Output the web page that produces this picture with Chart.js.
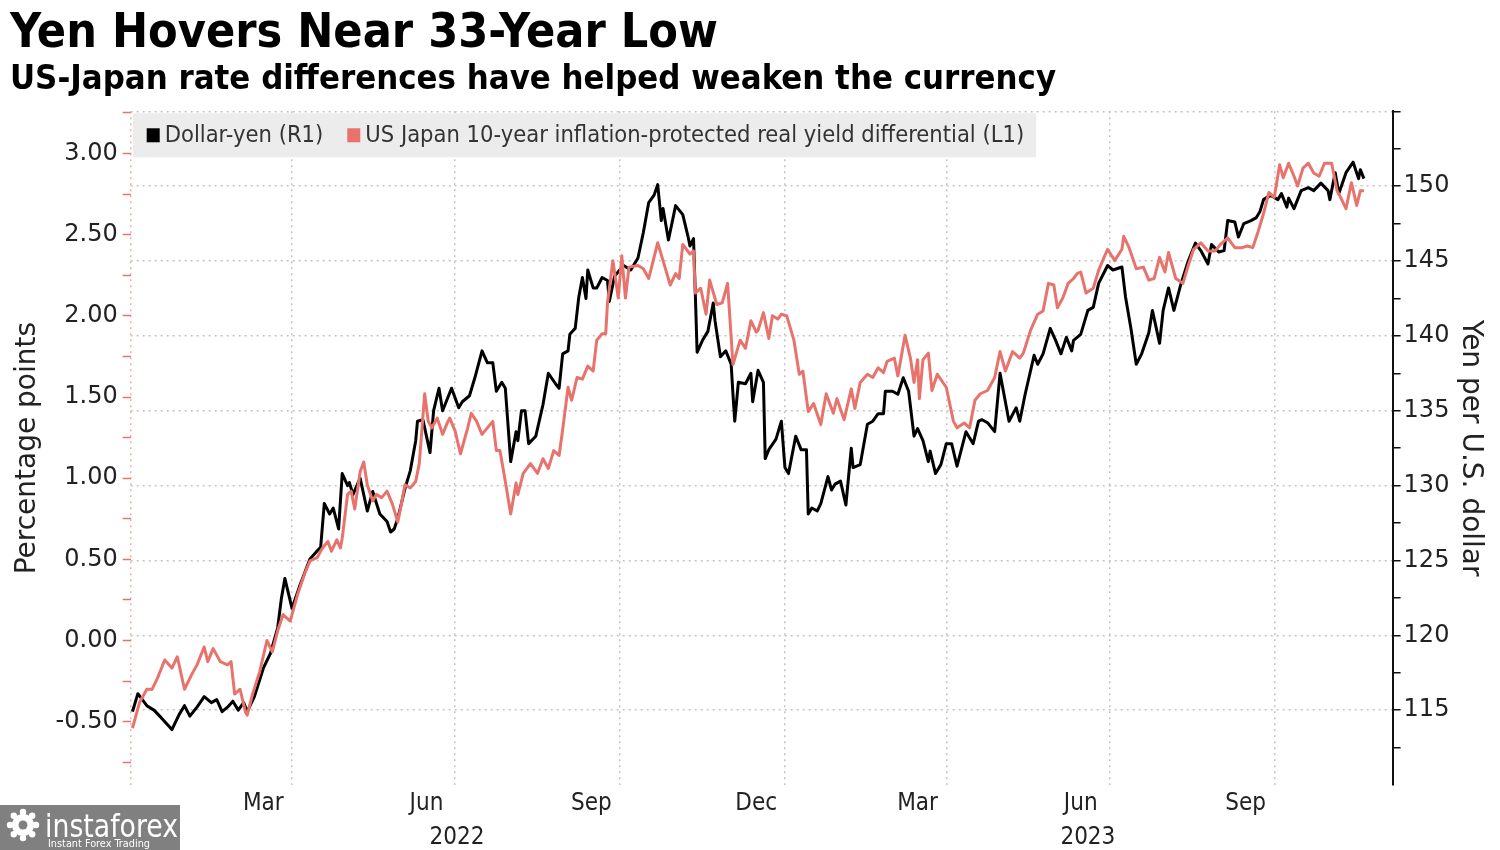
<!DOCTYPE html>
<html>
<head>
<meta charset="utf-8">
<title>Yen Hovers Near 33-Year Low</title>
<script src="https://cdn.jsdelivr.net/npm/chart.js@4.4.1/dist/chart.umd.min.js"></script>
<style>
  html, body { margin: 0; padding: 0; background: #fff; }
</style>
</head>
<body>
<canvas id="chart" width="1500" height="850"></canvas>
<script>
// all x values are days counted from 2022-01-01
var yenDays = [1,4,9,13,17,23,27,30,33,37, 41,45,48,51,54,57,60,63,65,69,
  74,78,82,84,86,90,94,100,106,108, 111,113,116,118,121,122,124,128,132,135,
  139,143,145,147,149,153,156,159,160,163, 167,169,172,174,179,183,185,189,192,196,
  199,202,204,207,209,212,215,216,218,220, 222,226,230,233,237,239,241,244,245,248,
  250,252,254,255,258,260,263,266,267,270, 275,279,283,286,289,292,294,296,297,300,
  304,308,311,312,314,315,316,319,322,325, 326,329,332,335,336,337,339,343,346,347,
  350,353,354,356,360,363,365,367,371,374, 377,378,380,383,385,389,391,393,396,399,
  402,403,407,411,414,417,420,421,425,428, 431,434,437,439,442,445,446,449,452,455,
  458,461,466,470,473,475,478,482,485,490, 494,496,499,504,506,509,513,516,519,522,
  525,526,530,534,537,540,545,548,553,555, 558,561,564,568,570,574,576,579,582,586,
  590,594,597,601,603,607,610,612,616,618, 621,625,628,630,632,636,640,642,645,646,
  649,653,657,660,664,668,669,672,674,678, 682,685,686,688]
var yenValues = [114.9,116.1,115.3,115.0,114.5,113.7,114.7,115.3,114.6,115.2,
  115.9,115.5,115.7,114.9,115.2,115.6,115.0,115.5,114.9,115.9,
  117.8,118.8,120.5,122.4,123.8,121.8,123.2,125.1,125.9,128.8,
  128.1,128.5,127.1,130.8,130.0,130.2,129.4,130.5,128.3,129.6,
  128.1,127.6,126.9,127.1,127.8,129.8,131.0,133.0,134.3,134.4,
  132.2,135.0,136.5,135.0,136.5,135.2,135.6,136.0,137.2,139.0,
  138.2,138.2,136.3,136.9,136.5,131.6,133.6,133.0,135.0,135.0,
  132.8,133.3,135.4,137.5,136.8,136.5,138.8,139.0,140.1,140.5,
  142.6,143.9,142.5,144.4,143.2,143.2,143.9,143.7,142.3,144.0,
  144.7,144.4,145.2,146.9,148.9,149.4,150.1,147.7,148.5,146.4,
  148.7,148.1,146.6,146.0,146.5,142.8,138.9,139.7,140.3,142.2,
  141.0,138.6,139.0,138.1,136.1,134.3,136.9,136.8,137.5,135.6,
  137.7,136.9,131.8,132.4,133.1,134.3,131.2,130.8,133.3,132.4,
  132.4,128.1,128.5,128.3,128.8,130.6,129.7,130.1,130.3,128.7,
  132.5,131.2,131.4,134.1,134.3,134.8,134.8,136.3,136.3,136.1,
  137.2,136.3,133.3,133.8,133.0,131.6,132.3,130.8,131.4,132.8,
  132.8,131.3,133.6,132.8,134.3,134.4,134.2,133.6,137.5,134.3,
  135.2,134.3,136.1,138.7,138.1,138.8,140.5,139.7,138.8,139.9,
  139.0,139.7,140.1,141.7,141.9,143.5,144.7,144.4,144.6,142.6,
  140.5,138.1,138.8,140.2,141.7,139.5,141.7,143.2,141.7,143.5,
  145.0,146.2,145.7,144.8,146.1,145.6,145.7,147.7,147.6,146.6,
  147.5,147.7,147.9,148.3,149.1,149.4,149.1,149.5,148.6,149.2,
  148.5,149.7,149.9,149.7,150.2,149.7,149.1,150.9,149.5,150.9,
  151.6,150.5,151.1,150.5]

var realDays = [1,5,9,12,15,19,23,26,30,34, 37,41,43,46,50,54,56,58,61,64,
  65,68,72,76,79,82,85,89,93,97, 100,104,107,110,112,115,117,118,121,123,
  125,128,130,132,135,137,140,143,146,149, 151,153,156,159,161,164,166,168,171,174,
  177,178,181,184,188,190,193,196,199,202, 204,206,209,212,215,216,219,223,227,230,
  233,236,239,241,244,246,249,252,255,258, 260,263,265,266,269,272,274,276,278,283,
  286,289,294,297,301,304,306,308,312,314, 315,318,321,323,327,330,333,336,340,343,
  346,349,350,353,356,358,361,363,366,370, 373,375,378,381,385,388,392,394,398,402,
  404,407,411,414,417,420,422,426,428,432, 435,437,439,440,442,445,447,450,455,459,
  461,465,468,471,474,478,482,485,488,492, 496,498,502,506,509,512,515,517,520,523,
  526,528,530,533,537,540,543,545,549,553, 554,557,561,565,568,571,574,577,579,583,
  587,590,593,597,601,605,608,612,616,620, 623,626,629,632,635,638,641,643,646,649,
  651,654,657,660,663,666,670,673,675,678, 681,684,686,688]
var realValues = [-0.54,-0.38,-0.30,-0.30,-0.23,-0.12,-0.17,-0.10,-0.30,-0.21,
  -0.15,-0.04,-0.13,-0.05,-0.13,-0.15,-0.13,-0.33,-0.30,-0.44,
  -0.46,-0.33,-0.19,0.00,-0.07,0.06,0.16,0.12,0.28,0.41,
  0.49,0.51,0.57,0.61,0.55,0.62,0.57,0.63,0.90,0.92,
  0.81,1.04,1.10,0.96,0.86,0.90,0.88,0.92,0.84,0.73,
  0.84,0.96,0.94,0.98,1.09,1.52,1.35,1.31,1.37,1.27,
  1.35,1.37,1.29,1.15,1.31,1.40,1.35,1.27,1.31,1.35,
  1.17,1.17,0.98,0.78,0.97,0.90,1.03,1.09,1.03,1.12,
  1.06,1.17,1.14,1.30,1.56,1.48,1.62,1.61,1.69,1.66,
  1.85,1.89,1.89,2.08,2.34,2.11,2.37,2.11,2.30,2.31,
  2.29,2.23,2.45,2.34,2.19,2.26,2.23,2.44,2.38,2.40,
  2.14,2.17,2.01,2.22,2.07,2.08,2.20,1.70,1.85,1.80,
  1.97,1.90,1.91,2.02,1.86,2.00,1.98,2.01,2.00,1.85,
  1.64,1.66,1.41,1.46,1.33,1.52,1.40,1.49,1.36,1.55,
  1.43,1.59,1.64,1.62,1.68,1.65,1.72,1.74,1.63,1.88,
  1.74,1.59,1.73,1.49,1.73,1.77,1.54,1.64,1.56,1.35,
  1.31,1.34,1.31,1.48,1.52,1.54,1.62,1.78,1.66,1.78,
  1.74,1.77,1.91,2.01,2.03,2.20,2.19,2.05,2.11,2.20,
  2.23,2.26,2.27,2.14,2.17,2.28,2.36,2.41,2.34,2.41,
  2.49,2.42,2.29,2.30,2.22,2.23,2.36,2.27,2.39,2.23,
  2.20,2.31,2.41,2.45,2.40,2.40,2.44,2.48,2.42,2.42,
  2.43,2.42,2.52,2.63,2.76,2.73,2.93,2.85,2.94,2.86,
  2.80,2.91,2.94,2.88,2.86,2.94,2.94,2.77,2.73,2.66,
  2.82,2.68,2.77,2.77]

var quarterLines = ['2022-01-01','2022-04-01','2022-07-01','2022-10-01','2023-01-01','2023-04-01','2023-07-01','2023-10-01']
var monthTicks = ['2022-03-16','2022-06-15','2022-09-15','2022-12-16','2023-03-16','2023-06-15','2023-09-15']
var monthLabels = ['Mar','Jun','Sep','Dec','Mar','Jun','Sep']
var yearTicks = ['2022-07-02','2023-06-19']
var yearLabels = ['2022','2023']
var leftTicks = [-0.75,-0.5,-0.25,0,0.25,0.5,0.75,1,1.25,1.5,1.75,2,2.25,2.5,2.75,3,3.25]
var rightTicks = [112.5,115,117.5,120,122.5,125,127.5,130,132.5,135,137.5,140,142.5,145,147.5,150,152.5,155]

var xEnd = dayOf('2023-12-06')

function dayOf(s) {
    var p = s.split('-')
    return (Date.UTC(+p[0], +p[1] - 1, +p[2]) - Date.UTC(2022, 0, 1)) / 86400000
}

function points(days, vals) {
    return days.map(function (d, i) { return {x: d, y: vals[i]} })
}

var GRID = '#c4c4c4'
var RED = '#e8726c'
var COND = '"DejaVu Sans Condensed", "DejaVu Sans", sans-serif'
var axisFont = {family: '"DejaVu Sans", sans-serif', size: 24}
var dateFont = {family: COND, size: 24, lineHeight: 1}

// legend drawn inside the plot area on a grey band
var legendBox = {
    id: 'legendBox',
    beforeDatasetsDraw: function (chart) {
        var ctx = chart.ctx, area = chart.chartArea
        var sets = chart.data.datasets
        ctx.save()
        ctx.font = '23.5px ' + COND
        var left = area.left + 2, top = area.top + 2, h = 44
        var w = 14
        sets.forEach(function (ds, i) {
            w += 13 + 5 + ctx.measureText(ds.label).width + (i < sets.length - 1 ? 24 : 12)
        })
        ctx.fillStyle = '#ececec'
        ctx.fillRect(left, top, w, h)
        var x = left + 14, mid = top + h / 2
        ctx.textBaseline = 'middle'
        sets.forEach(function (ds) {
            ctx.fillStyle = ds.borderColor
            ctx.fillRect(x, mid - 7, 13, 14)
            x += 18
            ctx.fillStyle = '#333'
            ctx.fillText(ds.label, x, mid + 1)
            x += ctx.measureText(ds.label).width + 24
        })
        ctx.restore()
    }
}

var watermark = {
    id: 'watermark',
    afterDraw: function (chart) {
        var ctx = chart.ctx
        ctx.save()
        ctx.fillStyle = '#808080'
        ctx.fillRect(0, 805, 180, 45)
        // little gear mark
        ctx.fillStyle = '#fff'
        ctx.beginPath()
        ctx.arc(23, 825, 11, 0, Math.PI * 2)
        ctx.fill()
        for (var k = 0; k < 8; k++) {
            var a = k * Math.PI / 4
            ctx.beginPath()
            ctx.arc(23 + Math.cos(a) * 13, 825 + Math.sin(a) * 13, 3.2, 0, Math.PI * 2)
            ctx.fill()
        }
        ctx.fillStyle = '#808080'
        ctx.beginPath()
        ctx.arc(23, 825, 4.5, 0, Math.PI * 2)
        ctx.fill()
        ctx.fillStyle = '#fff'
        ctx.textBaseline = 'alphabetic'
        ctx.font = '32px ' + COND
        ctx.fillText('instaforex', 45, 837, 133)
        ctx.font = '11px ' + COND
        ctx.fillText('Instant Forex Trading', 48, 847, 102)
        ctx.restore()
    }
}

function fixedTicks(values) {
    return function (scale) {
        scale.ticks = values.map(function (v) { return {value: v} })
    }
}

var chart = new Chart(document.getElementById('chart').getContext('2d'), {
    type: 'line',
    data: {
        datasets: [{
            label: 'Dollar-yen (R1)',
            data: points(yenDays, yenValues),
            yAxisID: 'y1',
            borderColor: '#000',
            backgroundColor: '#000',
            borderWidth: 3,
            order: 2
        }, {
            label: 'US Japan 10-year inflation-protected real yield differential (L1)',
            data: points(realDays, realValues),
            yAxisID: 'y',
            borderColor: RED,
            backgroundColor: RED,
            borderWidth: 3,
            order: 1
        }]
    },
    options: {
        responsive: false,
        animation: false,
        elements: {
            point: {radius: 0},
            line: {tension: 0, borderJoinStyle: 'round'}
        },
        layout: {padding: {left: 10, right: 2, top: 0, bottom: -3}},
        plugins: {
            legend: {display: false},
            tooltip: {enabled: false},
            title: {
                display: true,
                text: 'Yen Hovers Near 33-Year Low',
                align: 'start',
                color: '#000',
                font: {family: COND, weight: 'bold', size: 48, lineHeight: 1},
                padding: {top: 11, bottom: 0}
            },
            subtitle: {
                display: true,
                text: 'US-Japan rate differences have helped weaken the currency',
                align: 'start',
                color: '#000',
                font: {family: COND, weight: 'bold', size: 34.4},
                padding: {top: 0, bottom: 11}
            }
        },
        scales: {
            x: {
                type: 'linear', position: 'bottom', min: 0, max: xEnd, weight: 0,
                afterBuildTicks: fixedTicks(quarterLines.map(dayOf)),
                ticks: {display: false, autoSkip: false},
                grid: {
                    color: function (c) { return c.tick && c.tick.value === 0 ? '#efb0ac' : GRID },
                    lineWidth: 1.5,
                    drawTicks: false
                },
                border: {display: false, dash: [2, 4]}
            },
            xm: {
                type: 'linear', position: 'bottom', min: 0, max: xEnd, weight: 1,
                afterBuildTicks: fixedTicks(monthTicks.map(dayOf)),
                ticks: {
                    autoSkip: false, maxRotation: 0, padding: 7, color: '#222', font: dateFont,
                    callback: function (v, i) { return monthLabels[i] }
                },
                grid: {display: false, drawTicks: false},
                border: {display: false}
            },
            xy: {
                type: 'linear', position: 'bottom', min: 0, max: xEnd, weight: 2,
                afterBuildTicks: fixedTicks(yearTicks.map(dayOf)),
                ticks: {
                    autoSkip: false, maxRotation: 0, padding: 3, color: '#222', font: dateFont,
                    callback: function (v, i) { return yearLabels[i] }
                },
                grid: {display: false, drawTicks: false},
                border: {display: false}
            },
            y: {
                type: 'linear', position: 'left', min: -0.89, max: 3.26,
                afterBuildTicks: fixedTicks(leftTicks),
                ticks: {
                    autoSkip: false, padding: 5, color: '#222', font: axisFont,
                    callback: function (v) {
                        return Math.abs(v * 2 - Math.round(v * 2)) < 1e-9 ? v.toFixed(2) : ''
                    }
                },
                grid: {drawOnChartArea: false, tickLength: 8, tickColor: RED, tickWidth: 1.5},
                border: {display: false},
                title: {
                    display: true, text: 'Percentage points', color: '#222',
                    font: {family: '"DejaVu Sans", sans-serif', size: 28},
                    padding: {top: 1, bottom: 6}
                }
            },
            y1: {
                type: 'linear', position: 'right', min: 110, max: 155,
                afterBuildTicks: fixedTicks(rightTicks),
                ticks: {
                    autoSkip: false, padding: 3, color: '#222', font: axisFont,
                    callback: function (v) {
                        return (v % 5 === 0 && v >= 115 && v <= 150) ? String(v) : ''
                    }
                },
                grid: {
                    color: function (c) {
                        return c.tick && c.tick.value % 5 === 0 ? GRID : 'rgba(0,0,0,0)'
                    },
                    lineWidth: 1.5,
                    tickLength: 8,
                    tickColor: '#111',
                    tickWidth: 1.5,
                    tickBorderDash: [1, 0]
                },
                border: {display: true, color: '#111', width: 2, dash: [2, 4]},
                title: {
                    display: true, text: 'Yen per U.S. dollar', color: '#222',
                    font: {family: '"DejaVu Sans", sans-serif', size: 28},
                    padding: {top: 11, bottom: 1}
                }
            }
        }
    },
    plugins: [legendBox, watermark]
})
</script>
</body>
</html>
